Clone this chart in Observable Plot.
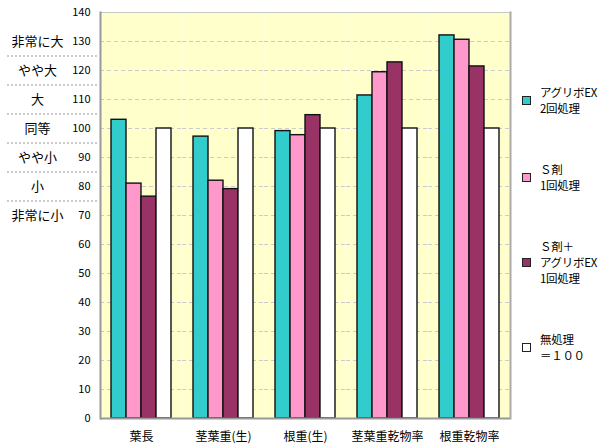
<!DOCTYPE html>
<html>
<head>
<meta charset="utf-8">
<script src="https://cdn.jsdelivr.net/npm/d3@7"></script>
<script src="https://cdn.jsdelivr.net/npm/@observablehq/plot@0.6"></script>
<style>
  html, body { margin: 0; padding: 0; background: #fff; }
  #wrap { position: relative; width: 600px; height: 448px; font-family: 'Noto Sans CJK JP', sans-serif; }
  #chart { position: absolute; left: 0; top: 0; }
  #legend { position: absolute; left: 522px; top: 84px; font-size: 11.5px; line-height: 16px; color: #000; white-space: nowrap; letter-spacing: -0.3px; }
  .item { display: flex; align-items: center; margin-bottom: 45px; }
  .sw { width: 7px; height: 7px; border: 1px solid #222; margin-right: 9px; flex: none; }
</style>
</head>
<body>
<div id="wrap"><div id="chart"></div><div id="legend"></div></div>
<script>
const categories = ["葉長", "茎葉重(生)", "根重(生)", "茎葉重乾物率", "根重乾物率"];
const seriesKeys = ["s1", "s2", "s3", "s4"];
const seriesLabels = [
  ["アグリボEX", "2回処理"],
  ["Ｓ剤", "1回処理"],
  ["Ｓ剤＋", "アグリボEX", "1回処理"],
  ["無処理", "＝１００"]
];
const seriesColors = ["#33cccc", "#ff99cc", "#993366", "#ffffff"];
const valuesS1 = [103.0, 97.2, 99.1, 111.4, 132.1];
const valuesS2 = [81.0, 82.0, 97.7, 119.4, 130.6];
const valuesS3 = [76.5, 79.1, 104.6, 122.8, 121.4];
const valuesS4 = [100, 100, 100, 100, 100];
const yTicks = [0, 10, 20, 30, 40, 50, 60, 70, 80, 90, 100, 110, 120, 130, 140];
const levelValues = [130, 120, 110, 100, 90, 80, 70];
const levelLabels = ["非常に大", "やや大", "大", "同等", "やや小", "小", "非常に小"];
const levelSeparators = [125, 115, 105, 95, 85, 75];

const allValues = [valuesS1, valuesS2, valuesS3, valuesS4];
const rows = [];
categories.forEach((c, i) => seriesKeys.forEach((s, j) => rows.push({cat: c, series: s, value: allValues[j][i]})));
const levels = levelValues.map((v, i) => ({v, label: levelLabels[i]}));

const chart = Plot.plot({
  width: 514,
  height: 448,
  marginLeft: 98,
  marginRight: 2,
  marginTop: 12,
  marginBottom: 30,
  style: {fontFamily: "'Noto Sans CJK JP', sans-serif", fontSize: "12px", color: "#000", background: "transparent", overflow: "visible"},
  fx: {domain: categories, padding: 0, label: null},
  x: {domain: seriesKeys, paddingInner: 0, paddingOuter: 0.7, axis: null},
  y: {domain: [0, 140], label: null},
  color: {domain: seriesKeys, range: seriesColors},
  marks: [
    Plot.frame({fill: "#ffffcc"}),
    Plot.gridY(yTicks, {stroke: "#cccccc", strokeOpacity: 1, strokeDasharray: "4,3"}),
    Plot.ruleY([140], {stroke: "#c8c8c8", strokeWidth: 1}),
    Plot.barY(rows, {fx: "cat", x: "series", y: "value", fill: "series", stroke: "#111", strokeWidth: 1.4}),
    Plot.ruleY([0], {stroke: "#999", strokeWidth: 2}),
    Plot.frame({anchor: "left", facetAnchor: "left", stroke: "#999", strokeWidth: 2}),
    Plot.frame({anchor: "right", facetAnchor: "right", stroke: "#aaa", strokeWidth: 2}),
    Plot.axisY(yTicks, {anchor: "left", tickSize: 0, tickPadding: 10, fontSize: 11, label: null}),
    Plot.axisFx({anchor: "bottom", tickSize: 0, tickPadding: 14, fontSize: 12, label: null}),
    Plot.text(levels, {y: "v", text: "label", frameAnchor: "left", dx: -63, textAnchor: "middle", fontSize: 13, facetAnchor: "left"}),
    Plot.ruleY(levelSeparators, {facetAnchor: "left", insetLeft: -93, insetRight: 85, stroke: "#999", strokeDasharray: "2,2"})
  ]
});
document.getElementById("chart").appendChild(chart);

const legend = document.getElementById("legend");
seriesKeys.forEach((s, i) => {
  const item = document.createElement("div");
  item.className = "item";
  const sw = document.createElement("div");
  sw.className = "sw";
  sw.style.background = seriesColors[i];
  const txt = document.createElement("div");
  txt.innerHTML = seriesLabels[i].join("<br>");
  item.appendChild(sw);
  item.appendChild(txt);
  legend.appendChild(item);
});
</script>
</body>
</html>
